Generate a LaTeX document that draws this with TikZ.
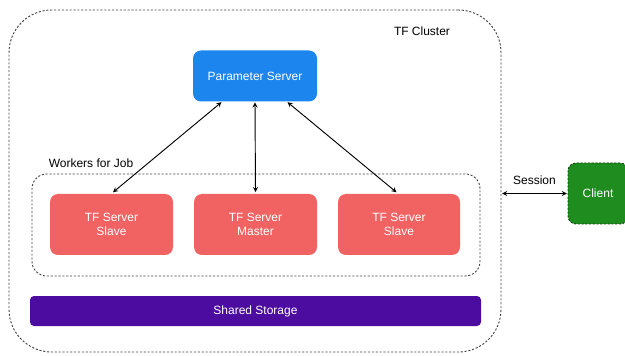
\documentclass[tikz,border=0pt]{standalone}
\usepackage{fontspec}
\setmainfont{Liberation Sans}
\usetikzlibrary{calc}
\definecolor{psblue}{RGB}{28,134,238}
\definecolor{tfred}{RGB}{241,98,98}
\definecolor{storepurple}{RGB}{76,12,160}
\definecolor{clientgreen}{RGB}{30,140,30}
\definecolor{dashgray}{RGB}{70,70,70}
\begin{document}
\begin{tikzpicture}[>=stealth,x=0.75pt,y=-0.75pt,
  font=\fontsize{9}{10.5}\selectfont,
  dots/.style={draw=dashgray,dash pattern=on 1.6pt off 1.3pt,line width=0.7pt},
  box/.style={rounded corners=6pt,text=white,align=center,inner sep=0pt},
  link/.style={<->,line width=0.7pt,shorten <=0.5pt,shorten >=0.5pt}]
\def\px{0.75pt}
\useasboundingbox (0,0) rectangle (625,356);
% cluster and worker group
\node[dots,rounded corners=32pt,minimum width=492*\px,minimum height=342*\px] (cluster) at (255,181) {};
\node at (422,31) {TF Cluster};
\node[dots,rounded corners=11pt,minimum width=448*\px,minimum height=102*\px] (workers) at (256,225) {};
\node at (91,163) {Workers for Job};
% servers
\node[box,fill=psblue,minimum width=124*\px,minimum height=51*\px] (ps) at (255,76) {Parameter Server};
\node[box,fill=tfred,minimum width=123*\px,minimum height=61*\px] (slaveA) at (111.5,224.5) {TF Server\\Slave};
\node[box,fill=tfred,minimum width=123*\px,minimum height=61*\px] (master) at (255.5,224.5) {TF Server\\Master};
\node[box,fill=tfred,minimum width=122*\px,minimum height=61*\px] (slaveB) at (399,224.5) {TF Server\\Slave};
\node[box,fill=storepurple,rounded corners=3pt,minimum width=451*\px,minimum height=30*\px] (storage) at (255.5,311) {Shared Storage};
\node[box,fill=clientgreen,draw=clientgreen!50!black,dash pattern=on 1.6pt off 1.2pt,line width=0.7pt,minimum width=60*\px,minimum height=61*\px] (client) at (598,193.5) {Client};
% connectors
\draw[link] ($(ps.south)+(-33,0)$) -- ($(slaveA.north)+(1,-1)$);
\draw[link] (ps.south) -- ($(master.north)+(0,-1)$);
\draw[link] ($(ps.south)+(32,0)$) -- ($(slaveB.north)+(-2,-1)$);
\draw[link] (client.west) -- (client.west -| cluster.east) node[midway,above=3pt] {Session};
\end{tikzpicture}
\end{document}
